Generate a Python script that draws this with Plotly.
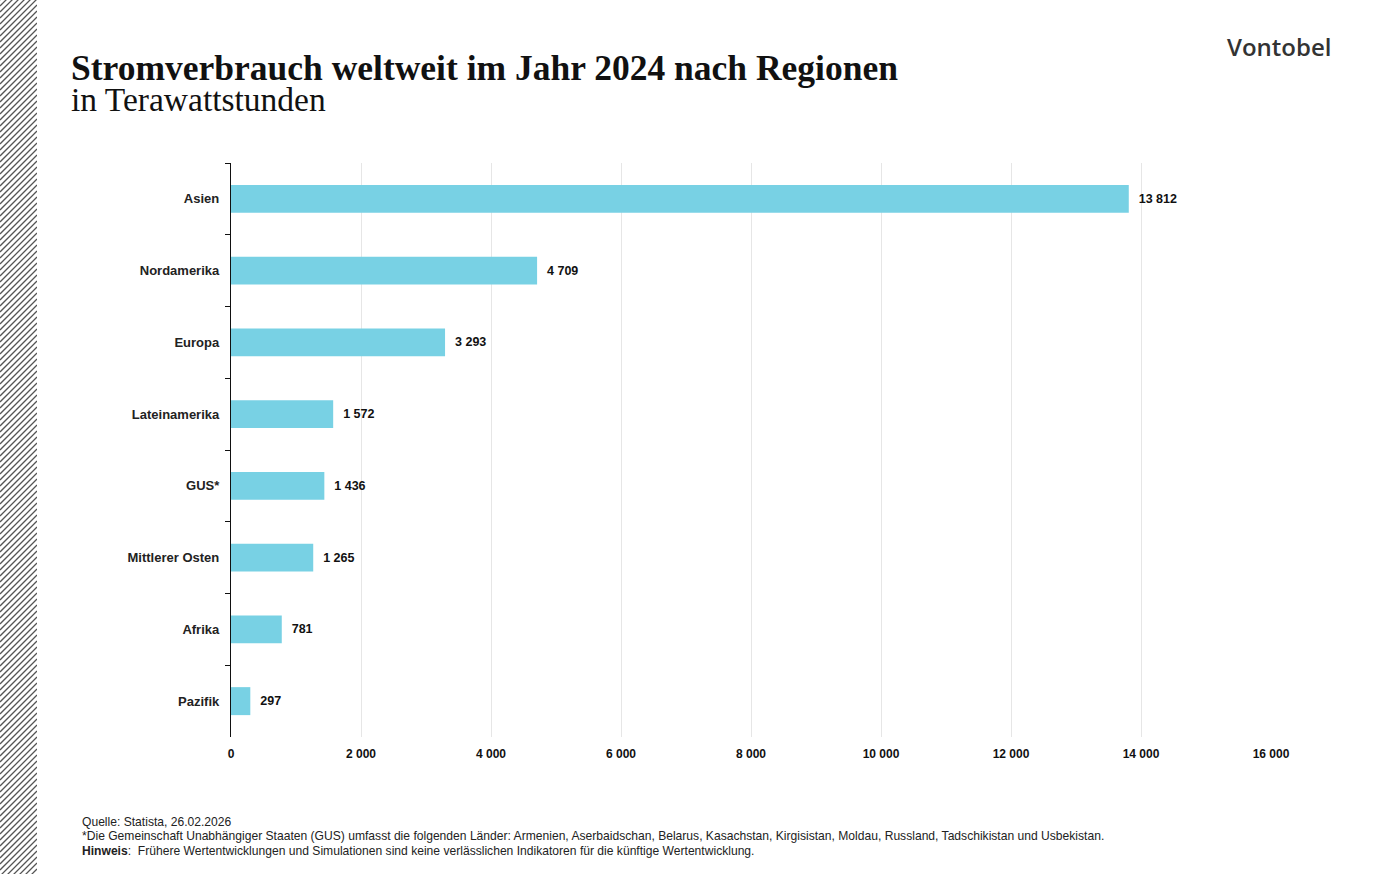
import plotly.graph_objects as go

regions = ["Asien", "Nordamerika", "Europa", "Lateinamerika", "GUS*", "Mittlerer Osten", "Afrika", "Pazifik"]
values = [13812, 4709, 3293, 1572, 1436, 1265, 781, 297]
x_ticks = [0, 2000, 4000, 6000, 8000, 10000, 12000, 14000, 16000]

W, H = 1375, 874
L, R, T, B = 231, 104, 163, 137
PW, PH = W - L - R, H - T - B

def px(x):
    return (x - L) / PW

def py(y):
    return 1 - (y - T) / PH

fig = go.Figure()
fig.add_trace(go.Bar(
    y=regions, x=values, orientation="h",
    marker=dict(color="#78d1e4", line=dict(width=0)),
    text=values, texttemplate="\u00a0\u00a0%{x:,d}", textposition="outside",
    textfont=dict(family="Liberation Sans", size=12.5, color="#111", weight="bold"),
    cliponaxis=False, width=0.39,
))

# hatched stripe at left edge
path = []
step = 6
stripe = 37
for k in range(-stripe, H + stripe, step):
    path.append(f"M{px(0)},{py(k + stripe)} L{px(stripe)},{py(k)}")
shapes = [dict(type="path", xref="paper", yref="paper", path=" ".join(path),
               line=dict(color="#555", width=1.3), layer="above")]
shapes.append(dict(type="rect", xref="paper", yref="paper", x0=px(stripe), x1=px(stripe + 40),
                   y0=py(-10), y1=py(H + 10), fillcolor="white", line=dict(width=0), layer="above"))

foot_lines = [
    "Quelle: Statista, 26.02.2026",
    "*Die Gemeinschaft Unabhängiger Staaten (GUS) umfasst die folgenden Länder: Armenien, Aserbaidschan, Belarus, Kasachstan, Kirgisistan, Moldau, Russland, Tadschikistan und Usbekistan.",
    "<b>Hinweis</b>:  Frühere Wertentwicklungen und Simulationen sind keine verlässlichen Indikatoren für die künftige Wertentwicklung.",
]
foot_y = [822, 836, 851]

annotations = [
    dict(text="<b>Stromverbrauch weltweit im Jahr 2024 nach Regionen</b>", x=px(69), y=py(68),
         xref="paper", yref="paper", xanchor="left", yanchor="middle", showarrow=False,
         font=dict(family="Liberation Serif", size=35.5, color="#111")),
    dict(text="in Terawattstunden", x=px(69), y=py(99), xref="paper", yref="paper",
         xanchor="left", yanchor="middle", showarrow=False,
         font=dict(family="Liberation Serif", size=33.5, color="#111")),
    dict(text="Vontobel", x=px(1333), y=py(47), xref="paper", yref="paper",
         xanchor="right", yanchor="middle", showarrow=False,
         font=dict(family="Open Sans", size=24, color="#333", weight=600)),
]
for t, yy in zip(foot_lines, foot_y):
    annotations.append(dict(text=t, x=px(80), y=py(yy), xref="paper", yref="paper",
                            xanchor="left", yanchor="middle", align="left", showarrow=False,
                            font=dict(family="Liberation Sans", size=12.1, color="#222")))

fig.update_layout(
    width=W, height=H,
    margin=dict(l=L, r=R, t=T, b=B, pad=0),
    paper_bgcolor="white", plot_bgcolor="white",
    separators=", ",
    showlegend=False,
    shapes=shapes,
    annotations=annotations,
    xaxis=dict(range=[0, 16000], tickvals=x_ticks, tickformat=",d",
               showgrid=True, gridcolor="#e6e6e6", gridwidth=1,
               zeroline=False, showline=False, ticks="",
               tickfont=dict(family="Liberation Sans", size=12, color="#111", weight="bold"),
               ticklabelstandoff=8),
    yaxis=dict(categoryorder="array", categoryarray=regions, autorange="reversed",
               showline=True, linecolor="#111", linewidth=1.3,
               ticks="outside", tickson="boundaries", ticklen=5, tickcolor="#111",
               showgrid=False, zeroline=False,
               tickfont=dict(family="Liberation Sans", size=13, color="#222", weight="bold"),
               ticklabelstandoff=8),
    bargap=0.61,
)

fig.write_html("out.html")
